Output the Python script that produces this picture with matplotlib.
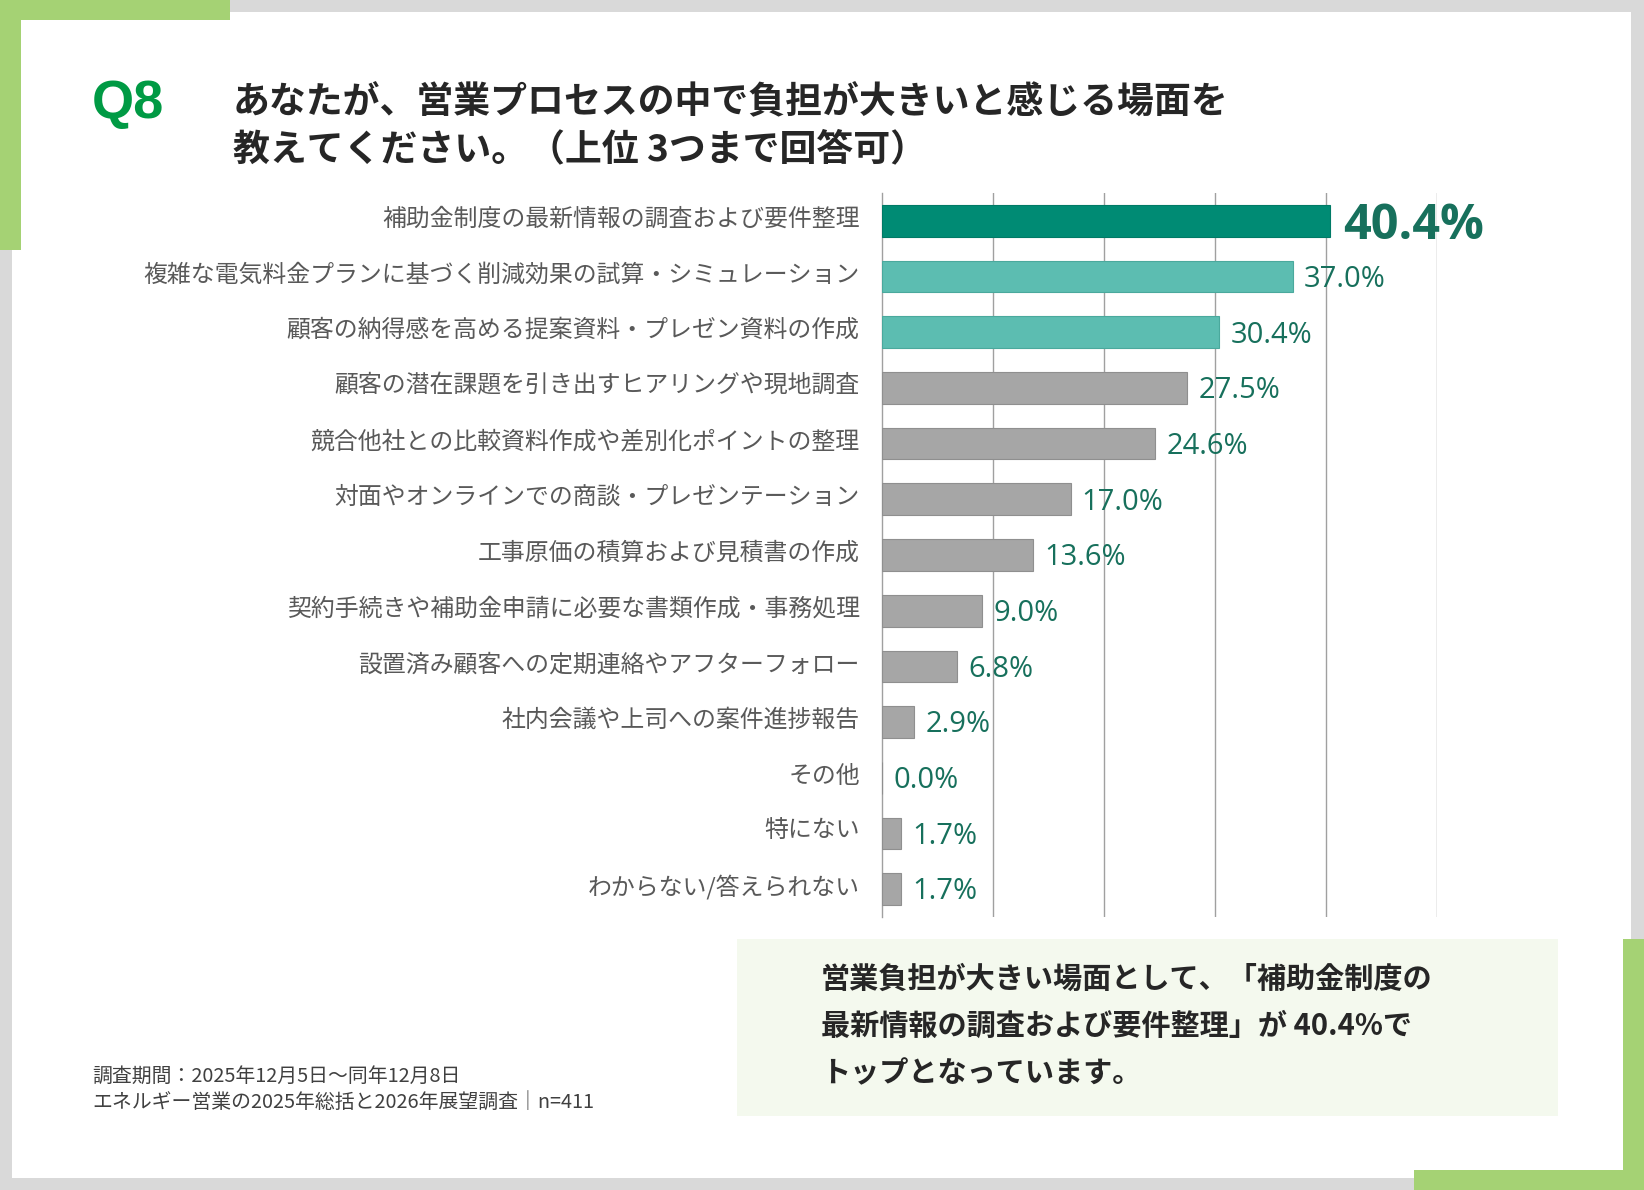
import matplotlib.pyplot as plt
from matplotlib.patches import Rectangle
from matplotlib.transforms import ScaledTranslation

W, H = 1644, 1190

categories = [
    "補助金制度の最新情報の調査および要件整理",
    "複雑な電気料金プランに基づく削減効果の試算・シミュレーション",
    "顧客の納得感を高める提案資料・プレゼン資料の作成",
    "顧客の潜在課題を引き出すヒアリングや現地調査",
    "競合他社との比較資料作成や差別化ポイントの整理",
    "対面やオンラインでの商談・プレゼンテーション",
    "工事原価の積算および見積書の作成",
    "契約手続きや補助金申請に必要な書類作成・事務処理",
    "設置済み顧客への定期連絡やアフターフォロー",
    "社内会議や上司への案件進捗報告",
    "その他",
    "特にない",
    "わからない/答えられない",
]
values = [40.4, 37.0, 30.4, 27.5, 24.6, 17.0, 13.6, 9.0, 6.8, 2.9, 0.0, 1.7, 1.7]
x_ticks = [0, 10, 20, 30, 40, 50]

title_no = "Q8"
title_lines = [
    "あなたが、営業プロセスの中で負担が大きいと感じる場面を",
    "教えてください。（上位 3つまで回答可）",
]
note_lines = [
    "調査期間：2025年12月5日～同年12月8日",
    "エネルギー営業の2025年総括と2026年展望調査│n=411",
]
summary_lines = [
    "営業負担が大きい場面として、「補助金制度の",
    "最新情報の調査および要件整理」が 40.4%で",
    "トップとなっています。",
]

JP = ["Noto Sans CJK JP", "DejaVu Sans"]
LAT = ["Open Sans", "DejaVu Sans"]
ACCENT = "#a5d274"
FRAME = "#d9d9d9"
TOP = "#008b74"
SECOND = "#5cbdb1"
REST = "#a6a6a6"
LABEL_GREEN = "#17705c"


def fx(px):
    return px / W


def fy(py):
    return 1 - py / H


def rect(fig, x0, y0, x1, y1, color):
    fig.patches.append(Rectangle((fx(x0), fy(y1)), fx(x1) - fx(x0), fy(y0) - fy(y1),
                                 transform=fig.transFigure, facecolor=color,
                                 edgecolor="none", zorder=-5))


fig = plt.figure(figsize=(W / 100, H / 100), dpi=100)
fig.patch.set_facecolor(FRAME)

# frame and green corner accents
rect(fig, 12, 12, 1631, 1178, "white")
rect(fig, 0, 0, 230, 20, ACCENT)
rect(fig, 0, 0, 21, 250, ACCENT)
rect(fig, 1623, 939, 1644, 1190, ACCENT)
rect(fig, 1414, 1170, 1644, 1190, ACCENT)
rect(fig, 737, 939, 1558, 1116, "#f4f9ee")

# title
fig.text(fx(92), fy(104), title_no, family=["Liberation Sans"], weight="bold",
         fontsize=39, color="#009a44", va="center", ha="left")
for i, line in enumerate(title_lines):
    fig.text(fx(233), fy(103 + i * 47), line, family=JP, weight="bold",
             fontsize=26.6, color="#262626", va="center", ha="left")

# bar chart
ax = fig.add_axes([fx(882), fy(917), fx(1437) - fx(882), fy(193) - fy(917)])
ax.set_zorder(2)
ax.set_facecolor("none")
pos = list(range(len(categories)))
colors = [TOP if i == 0 else SECOND if i < 3 else REST for i in pos]
edges = ["#007a66" if i == 0 else "#4aa99d" if i < 3 else "#8f8f8f" for i in pos]
ax.barh(pos, values, height=0.57, color=colors, edgecolor=edges, linewidth=0.8, zorder=3)
ax.set_xlim(x_ticks[0], x_ticks[-1])
ax.set_ylim(len(categories) - 0.5, -0.5)
for t in x_ticks[1:]:
    ax.axvline(t, color="#a0a0a0", lw=1, zorder=1)
for s in ["top", "right", "bottom"]:
    ax.spines[s].set_visible(False)
ax.spines["left"].set_color("#a0a0a0")
ax.spines["left"].set_linewidth(1)
ax.set_xticks([])
ax.set_yticks(pos)
ax.set_yticklabels(categories, family=JP, fontsize=17.2, color="#595959")
ax.tick_params(axis="y", length=0, pad=16)
shift = ScaledTranslation(0, 3 / 72, fig.dpi_scale_trans)
for lab in ax.get_yticklabels():
    lab.set_transform(lab.get_transform() + shift)

for i, v in enumerate(values):
    if i == 0:
        ax.annotate(f"{v:.1f}%", (v, i), xytext=(9, -4), textcoords="offset points",
                    family=LAT, weight="bold", fontsize=35, color=LABEL_GREEN,
                    va="center", ha="left", zorder=4)
    else:
        ax.annotate(f"{v:.1f}%", (v, i), xytext=(8, -2), textcoords="offset points",
                    family=LAT, fontsize=21, color=LABEL_GREEN,
                    va="center", ha="left", zorder=4)

# footnote
for i, line in enumerate(note_lines):
    fig.text(fx(92), fy(1076 + i * 27), line, family=JP, fontsize=14.3,
             color="#404040", va="center", ha="left")

# summary
for i, line in enumerate(summary_lines):
    fig.text(fx(821), fy(979 + i * 47), line, family=JP, weight="bold",
             fontsize=21, color="#262626", va="center", ha="left")

fig.savefig("out.png", dpi=100, facecolor=fig.get_facecolor())
